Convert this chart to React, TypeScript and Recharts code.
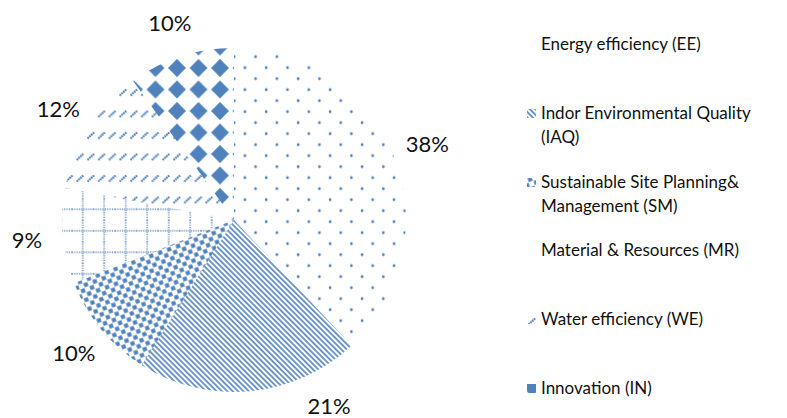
import { PieChart, Pie, Cell, Legend } from "recharts";

const categories = [
  "Energy efficiency (EE)",
  "Indor Environmental Quality (IAQ)",
  "Sustainable Site Planning& Management (SM)",
  "Material & Resources (MR)",
  "Water efficiency (WE)",
  "Innovation (IN)",
];
const shares = [38, 21, 10, 9, 12, 10];

const data = categories.map((name, i) => ({ name, value: shares[i] }));

const BLUE = "#4F81BD";
const patternIds = ["pEE", "pIAQ", "pSM", "pMR", "pWE", "pIN"];
const RAD = Math.PI / 180;
const FONT = "Lato, 'Open Sans', sans-serif";

function renderLabel(props: any) {
  const { cx, cy, midAngle, outerRadius, value } = props;
  const r = outerRadius + 36;
  let x = cx + r * Math.cos(-midAngle * RAD);
  let y = cy + r * Math.sin(-midAngle * RAD);
  // keep labels inside the picture, sliding them along the label circle
  const maxY = 405;
  if (y > maxY) {
    const dy = maxY - cy;
    const dx = Math.sqrt(Math.max(r * r - dy * dy, 0));
    x = cx + (x >= cx ? dx : -dx);
    y = maxY;
  }
  return (
    <text x={x} y={y} textAnchor="middle" dominantBaseline="central" fill="#111" fontSize={22} fontFamily={FONT}>
      {`${value}%`}
    </text>
  );
}

function renderLegend(props: any) {
  // legend keeps the data order, not the alphabetical one
  const payload = [...(props.payload || [])].sort(
    (a: any, b: any) => categories.indexOf(a.value) - categories.indexOf(b.value)
  );
  return (
    <div style={{ fontFamily: FONT, fontSize: 17, color: "#111" }}>
      {payload.map((entry: any) => {
        const i = categories.indexOf(entry.value);
        return (
          <div key={entry.value} style={{ display: "flex", alignItems: "flex-start", height: 68.8 }}>
            <svg width={9} height={9} style={{ marginTop: 8, marginRight: 5, flexShrink: 0 }}>
              <rect width={9} height={9} fill={`url(#${patternIds[i]})`} />
            </svg>
            <div style={{ width: 246, lineHeight: "24px" }}>{entry.value}</div>
          </div>
        );
      })}
    </div>
  );
}

export default function App() {
  return (
    <div style={{ position: "absolute", left: 0, top: 0, width: 787, height: 418, background: "#fff" }}>
      <PieChart width={787} height={418} margin={{ top: 0, right: 0, bottom: 0, left: 0 }}>
        <defs>
          <pattern id="pEE" patternUnits="userSpaceOnUse" width={21.3} height={22} x={5.6} y={-3.3}>
            <circle cx={5} cy={5} r={1.4} fill={BLUE} />
            <circle cx={15.65} cy={16} r={1.4} fill={BLUE} />
          </pattern>
          <pattern id="pIAQ" patternUnits="userSpaceOnUse" width={3.8} height={10} patternTransform="rotate(-45)">
            <line x1={1.9} y1={0} x2={1.9} y2={10} stroke={BLUE} strokeWidth={1.6} />
          </pattern>
          <pattern id="pSM" patternUnits="userSpaceOnUse" width={9.5} height={9.5} patternTransform="rotate(-20)">
            <rect x={0.3} y={0.3} width={4.2} height={4.2} fill={BLUE} />
            <rect x={5.05} y={5.05} width={4.2} height={4.2} fill={BLUE} />
          </pattern>
          <pattern id="pMR" patternUnits="userSpaceOnUse" width={21.5} height={21.5} x={7.45} y={5.05}>
            <line x1={0} y1={10.75} x2={21.5} y2={10.75} stroke={BLUE} strokeWidth={1.4} strokeDasharray="1.1 1.2" />
            <line x1={10.75} y1={0} x2={10.75} y2={21.5} stroke={BLUE} strokeWidth={1.4} strokeDasharray="1.1 1.2" />
          </pattern>
          <pattern id="pWE" patternUnits="userSpaceOnUse" width={10.75} height={21.5}>
            <line x1={1.5} y1={9.5} x2={8.5} y2={3} stroke={BLUE} strokeWidth={2.2} strokeDasharray="1.8 0.6" />
          </pattern>
          <pattern id="pIN" patternUnits="userSpaceOnUse" width={21.5} height={21.5} x={15.75} y={14.25}>
            <polygon points="10.75,1.8 19.7,10.75 10.75,19.7 1.8,10.75" fill={BLUE} />
          </pattern>
        </defs>
        <Pie
          data={data}
          dataKey="value"
          nameKey="name"
          cx={234}
          cy={220}
          outerRadius={172}
          startAngle={90}
          endAngle={-270}
          stroke="none"
          label={renderLabel}
          labelLine={false}
          isAnimationActive={false}
        >
          {data.map((d, i) => (
            <Cell key={d.name} fill={`url(#${patternIds[i]})`} />
          ))}
        </Pie>
        <Legend
          layout="vertical"
          align="right"
          verticalAlign="top"
          content={renderLegend}
          wrapperStyle={{ left: 527, top: 32, width: 260 }}
        />
      </PieChart>
    </div>
  );
}
